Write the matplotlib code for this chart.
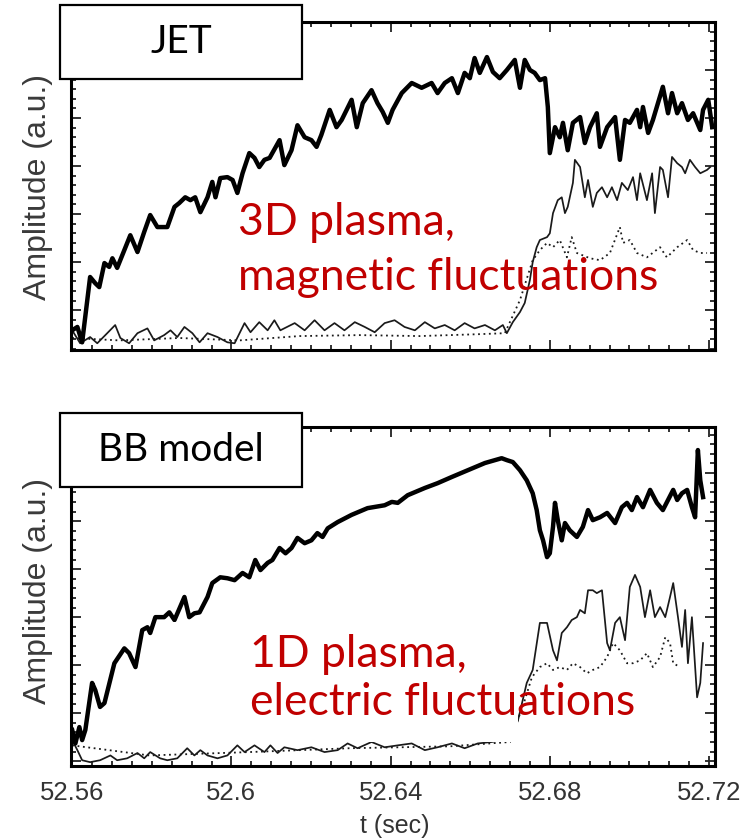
import matplotlib
matplotlib.use("Agg")
import matplotlib.pyplot as plt
from matplotlib.patches import Rectangle
from matplotlib.ticker import MultipleLocator

# ---- JET (top panel) ----
jet_thick_t = [52.5600, 52.5613, 52.5625, 52.5645, 52.5658, 52.5668, 52.5681, 52.5693, 52.5701, 52.5713,
               52.5731, 52.5746, 52.5764, 52.5781, 52.5796, 52.5814, 52.5839, 52.5857, 52.5869, 52.5884,
               52.5897, 52.5909, 52.5922, 52.5940, 52.5952, 52.5960, 52.5972, 52.5990, 52.6003, 52.6015,
               52.6028, 52.6045, 52.6058, 52.6070, 52.6083, 52.6096, 52.6121, 52.6133, 52.6151, 52.6166,
               52.6184, 52.6201, 52.6214, 52.6226, 52.6247, 52.6264, 52.6277, 52.6302, 52.6315, 52.6330,
               52.6352, 52.6367, 52.6380, 52.6393, 52.6405, 52.6428, 52.6453, 52.6478, 52.6503, 52.6518,
               52.6536, 52.6554, 52.6569, 52.6586, 52.6599, 52.6611, 52.6624, 52.6642, 52.6657, 52.6674,
               52.6692, 52.6712, 52.6725, 52.6737, 52.6750, 52.6762, 52.6775, 52.6788, 52.6795, 52.6800,
               52.6813, 52.6825, 52.6833, 52.6845, 52.6858, 52.6876, 52.6888, 52.6901, 52.6918, 52.6926,
               52.6944, 52.6964, 52.6976, 52.6989, 52.7001, 52.7019, 52.7027, 52.7034, 52.7047, 52.7059,
               52.7084, 52.7097, 52.7107, 52.7120, 52.7132, 52.7147, 52.7160, 52.7178, 52.7185, 52.7198,
               52.7208]
jet_thick_a = [-0.42, -0.35, -0.67, 0.69, 0.56, 0.48, 0.98, 0.90, 1.08, 0.88,
               1.25, 1.56, 1.21, 1.63, 1.98, 1.73, 1.73, 2.15, 2.23, 2.35,
               2.29, 2.35, 2.04, 2.35, 2.67, 2.35, 2.75, 2.77, 2.71, 2.44,
               2.85, 3.27, 3.17, 2.98, 3.13, 3.17, 3.54, 3.02, 3.33, 3.85,
               3.60, 3.54, 3.40, 3.65, 4.17, 3.81, 3.96, 4.38, 3.81, 4.31,
               4.58, 4.31, 4.13, 3.90, 4.17, 4.52, 4.73, 4.63, 4.73, 4.52,
               4.73, 4.83, 4.52, 4.94, 4.83, 5.25, 4.94, 5.27, 4.96, 4.83,
               5.00, 5.21, 4.63, 5.21, 5.00, 4.94, 4.79, 4.83, 4.23, 3.27,
               3.81, 3.60, 3.90, 3.33, 3.90, 4.02, 3.48, 3.81, 4.10, 3.40,
               3.81, 4.02, 3.13, 3.96, 3.90, 4.17, 3.81, 4.23, 3.69, 3.96,
               4.65, 4.10, 4.52, 4.10, 4.31, 3.96, 4.10, 3.75, 4.17, 4.38,
               3.81]

jet_thin_t = [52.5600, 52.5620, 52.5645, 52.5663, 52.5688, 52.5708, 52.5721, 52.5743, 52.5764, 52.5789,
              52.5806, 52.5831, 52.5847, 52.5864, 52.5882, 52.5902, 52.5920, 52.5940, 52.5965, 52.5990,
              52.6008, 52.6033, 52.6048, 52.6070, 52.6091, 52.6108, 52.6123, 52.6159, 52.6184, 52.6209,
              52.6234, 52.6259, 52.6284, 52.6310, 52.6335, 52.6360, 52.6385, 52.6410, 52.6435, 52.6461,
              52.6486, 52.6511, 52.6536, 52.6561, 52.6586, 52.6611, 52.6637, 52.6662, 52.6682, 52.6692,
              52.6707, 52.6725, 52.6737, 52.6750, 52.6757, 52.6767, 52.6775, 52.6793, 52.6800, 52.6808,
              52.6820, 52.6830, 52.6838, 52.6845, 52.6858, 52.6863, 52.6876, 52.6888, 52.6896, 52.6908,
              52.6918, 52.6931, 52.6944, 52.6956, 52.6969, 52.6981, 52.6996, 52.7009, 52.7019, 52.7027,
              52.7044, 52.7057, 52.7064, 52.7077, 52.7084, 52.7097, 52.7107, 52.7120, 52.7132, 52.7140,
              52.7152, 52.7165, 52.7178, 52.7195, 52.7203]
jet_thin_a = [-0.42, -0.69, -0.56, -0.69, -0.48, -0.31, -0.58, -0.69, -0.48, -0.38,
              -0.63, -0.52, -0.42, -0.56, -0.35, -0.48, -0.67, -0.48, -0.56, -0.67,
              -0.69, -0.27, -0.46, -0.25, -0.42, -0.21, -0.42, -0.27, -0.42, -0.21,
              -0.42, -0.27, -0.42, -0.25, -0.35, -0.46, -0.27, -0.21, -0.35, -0.42,
              -0.25, -0.38, -0.31, -0.42, -0.27, -0.38, -0.31, -0.42, -0.31, -0.48,
              -0.25, -0.04, 0.15, 0.63, 1.00, 1.31, 1.46, 1.52, 1.60, 2.02,
              2.29, 2.35, 2.02, 2.15, 2.65, 3.13, 2.98, 2.35, 2.71, 2.15,
              2.44, 2.56, 2.35, 2.56, 2.29, 2.65, 2.50, 2.77, 2.29, 2.85,
              2.29, 2.85, 2.02, 2.98, 2.92, 2.35, 3.19, 3.06, 2.98, 2.85,
              3.13, 2.98, 2.85, 2.92, 2.98]

jet_dot_t = [52.5600, 52.5718, 52.5869, 52.6020, 52.6171, 52.6322, 52.6473, 52.6624, 52.6687, 52.6725,
             52.6757, 52.6775, 52.6793, 52.6808, 52.6825, 52.6843, 52.6855, 52.6868, 52.6901, 52.6926,
             52.6951, 52.6976, 52.6984, 52.7001, 52.7019, 52.7044, 52.7077, 52.7094, 52.7120, 52.7145,
             52.7160, 52.7178, 52.7195]
jet_dot_a = [-0.58, -0.63, -0.58, -0.63, -0.54, -0.52, -0.54, -0.50, -0.48, 0.21,
             1.04, 1.25, 1.40, 1.31, 1.46, 1.10, 1.52, 1.19, 1.08, 1.04,
             1.19, 1.73, 1.40, 1.46, 1.19, 1.10, 1.31, 1.10, 1.31, 1.46,
             1.25, 1.19, 1.19]

# ---- BB model (bottom panel) ----
bb_thick_t = [52.5600, 52.5608, 52.5618, 52.5625, 52.5633, 52.5650, 52.5658, 52.5670, 52.5681, 52.5706,
              52.5731, 52.5743, 52.5759, 52.5776, 52.5789, 52.5796, 52.5809, 52.5831, 52.5844, 52.5857,
              52.5882, 52.5894, 52.5907, 52.5920, 52.5940, 52.5952, 52.5972, 52.5990, 52.6008, 52.6028,
              52.6045, 52.6060, 52.6073, 52.6091, 52.6103, 52.6121, 52.6136, 52.6151, 52.6166, 52.6184,
              52.6201, 52.6216, 52.6229, 52.6242, 52.6267, 52.6302, 52.6342, 52.6385, 52.6403, 52.6418,
              52.6443, 52.6486, 52.6518, 52.6554, 52.6594, 52.6637, 52.6679, 52.6692, 52.6707, 52.6725,
              52.6742, 52.6757, 52.6767, 52.6775, 52.6783, 52.6793, 52.6800, 52.6808, 52.6813, 52.6820,
              52.6830, 52.6838, 52.6850, 52.6868, 52.6883, 52.6896, 52.6908, 52.6926, 52.6944, 52.6964,
              52.6981, 52.6994, 52.7006, 52.7019, 52.7034, 52.7052, 52.7069, 52.7084, 52.7097, 52.7110,
              52.7120, 52.7132, 52.7145, 52.7157, 52.7165, 52.7172, 52.7178, 52.7185]
bb_thick_a = [-0.35, -0.63, -0.29, -0.56, -0.35, 0.63, 0.48, 0.13, 0.21, 1.04,
              1.35, 1.25, 0.96, 1.73, 1.79, 1.67, 2.00, 2.00, 2.10, 1.94,
              2.42, 2.00, 2.08, 2.10, 2.42, 2.71, 2.83, 2.81, 2.77, 2.92,
              2.83, 3.19, 2.98, 3.13, 3.19, 3.44, 3.33, 3.44, 3.65, 3.54,
              3.60, 3.75, 3.67, 3.85, 3.98, 4.13, 4.27, 4.33, 4.40, 4.38,
              4.54, 4.69, 4.79, 4.92, 5.06, 5.21, 5.31, 5.27, 5.23, 5.06,
              4.85, 4.58, 4.23, 3.81, 3.60, 3.25, 3.33, 3.88, 4.38, 4.02,
              3.60, 3.96, 3.81, 3.67, 3.88, 4.23, 4.02, 4.08, 4.17, 3.96,
              4.29, 4.38, 4.23, 4.50, 4.29, 4.65, 4.38, 4.23, 4.44, 4.65,
              4.44, 4.58, 4.65, 4.29, 4.08, 5.48, 4.85, 4.50]

bb_thin_t = [52.5600, 52.5613, 52.5625, 52.5645, 52.5670, 52.5696, 52.5713, 52.5738, 52.5764, 52.5781,
             52.5796, 52.5821, 52.5839, 52.5864, 52.5889, 52.5907, 52.5922, 52.5940, 52.5965, 52.5990,
             52.6015, 52.6033, 52.6058, 52.6083, 52.6098, 52.6116, 52.6133, 52.6166, 52.6201, 52.6234,
             52.6267, 52.6292, 52.6317, 52.6352, 52.6385, 52.6418, 52.6453, 52.6486, 52.6518, 52.6554,
             52.6586, 52.6619, 52.6654, 52.6679, 52.6700, 52.6720, 52.6742, 52.6757, 52.6775, 52.6793,
             52.6808, 52.6818, 52.6830, 52.6843, 52.6855, 52.6868, 52.6876, 52.6888, 52.6896, 52.6908,
             52.6918, 52.6931, 52.6944, 52.6951, 52.6964, 52.6976, 52.6989, 52.7001, 52.7014, 52.7027,
             52.7039, 52.7052, 52.7064, 52.7077, 52.7090, 52.7102, 52.7110, 52.7122, 52.7132, 52.7140,
             52.7147, 52.7157, 52.7170, 52.7178, 52.7185]
bb_thin_a = [-0.56, -0.77, -0.98, -1.02, -0.98, -0.88, -0.98, -0.94, -0.83, -0.94,
             -0.81, -0.94, -0.98, -0.94, -0.73, -0.88, -0.77, -0.88, -0.94, -0.88,
             -0.67, -0.81, -0.67, -0.81, -0.67, -0.83, -0.71, -0.77, -0.71, -0.81,
             -0.77, -0.63, -0.73, -0.60, -0.71, -0.67, -0.63, -0.77, -0.71, -0.63,
             -0.73, -0.63, -0.60, -0.56, -0.56, -0.15, 0.63, 0.90, 1.88, 1.88,
             1.31, 1.10, 1.67, 1.79, 1.94, 2.00, 2.15, 2.08, 2.56, 2.56,
             2.50, 2.56, 1.46, 1.31, 1.88, 2.00, 1.52, 2.63, 2.88, 2.63,
             2.00, 2.56, 2.00, 2.21, 2.00, 2.42, 2.71, 2.00, 1.38, 2.15,
             1.04, 2.00, 0.33, 0.63, 1.46]

bb_dot_t = [52.5600, 52.5794, 52.6045, 52.6297, 52.6549, 52.6700, 52.6737, 52.6755, 52.6775, 52.6793,
            52.6808, 52.6825, 52.6843, 52.6858, 52.6876, 52.6893, 52.6908, 52.6926, 52.6944, 52.6959,
            52.6976, 52.6994, 52.7009, 52.7027, 52.7044, 52.7059, 52.7077, 52.7090, 52.7102, 52.7110,
            52.7127]
bb_dot_a = [-0.67, -0.88, -0.81, -0.73, -0.69, -0.60, 0.27, 0.75, 0.96, 1.04,
            0.90, 0.96, 0.90, 1.04, 0.96, 0.83, 0.90, 0.96, 1.17, 1.46,
            1.31, 1.04, 1.04, 1.10, 1.25, 0.96, 1.17, 1.58, 1.46, 1.04,
            0.96]

xtick_vals = [52.56, 52.6, 52.64, 52.68, 52.72]
xtick_labels = ["52.56", "52.6", "52.64", "52.68", "52.72"]

panels = [
    dict(name="JET", thick=(jet_thick_t, jet_thick_a), thin=(jet_thin_t, jet_thin_a),
         dot=(jet_dot_t, jet_dot_a), ylim=(-0.83, 6.0),
         lines=["3D plasma,", "magnetic fluctuations"]),
    dict(name="BB model", thick=(bb_thick_t, bb_thick_a), thin=(bb_thin_t, bb_thin_a),
         dot=(bb_dot_t, bb_dot_a), ylim=(-1.10, 5.96),
         lines=["1D plasma,", "electric fluctuations"]),
]

W, H = 747, 839
fig = plt.figure(figsize=(W / 100, H / 100), dpi=100)


def fx(px):
    return px / W


def fy(py):
    return 1 - py / H


ax_top = fig.add_axes([fx(71), fy(350), fx(715) - fx(71), fy(22) - fy(350)])
ax_bot = fig.add_axes([fx(71), fy(766), fx(715) - fx(71), fy(427) - fy(766)])

red = "#C00000"
gray = "#333333"

for ax, p in zip([ax_top, ax_bot], panels):
    ax.plot(*p["thin"], color="#1a1a1a", lw=1.25, zorder=2)
    ax.plot(*p["dot"], color="#1a1a1a", lw=1.3, ls=(0, (1, 2.0)), zorder=2)
    ax.plot(*p["thick"], color="black", lw=3.2, zorder=3, solid_joinstyle="round")
    ax.set_xlim(52.5597, 52.7215)
    ax.set_ylim(*p["ylim"])
    ax.xaxis.set_major_locator(MultipleLocator(0.04))
    ax.xaxis.set_minor_locator(MultipleLocator(0.005))
    ax.yaxis.set_major_locator(MultipleLocator(1))
    ax.yaxis.set_minor_locator(MultipleLocator(0.2))
    ax.tick_params(which="both", direction="in", top=True, right=True, width=1.3, color="#222222")
    ax.tick_params(which="major", length=7)
    ax.tick_params(which="minor", length=3.5)
    ax.set_yticklabels([])
    for s in ax.spines.values():
        s.set_linewidth(2.2)

ax_top.set_xticklabels([])
ax_bot.set_xticks(xtick_vals)
ax_bot.set_xticklabels(xtick_labels)
ax_bot.tick_params(axis="x", which="major", labelsize=18.5, labelcolor=gray, pad=11)
for lab in ax_bot.get_xticklabels():
    lab.set_family("Liberation Sans")

# axis labels
for cy in (187, 591):
    fig.text(fx(38), fy(cy), "Amplitude (a.u.)", rotation=90, ha="center", va="center",
             fontsize=23, color="#3a3a3a", family="Liberation Sans")
fig.text(fx(395), fy(826), "t (sec)", ha="center", va="center", fontsize=18,
         color=gray, family="Liberation Sans")

# white patch behind the lower annotation
fig.add_artist(Rectangle((fx(165), fy(742)), fx(518) - fx(165), fy(622) - fy(742),
                         transform=fig.transFigure, facecolor="white", edgecolor="none", zorder=5))

# panel name boxes
for (y0, y1), p in zip([(5, 79), (413, 487)], panels):
    fig.add_artist(Rectangle((fx(60), fy(y1)), fx(302) - fx(60), fy(y0) - fy(y1),
                             transform=fig.transFigure, facecolor="white", edgecolor="black",
                             lw=1.6, zorder=6))
    fig.text(fx(181), fy((y0 + y1) / 2), p["name"], ha="center", va="center",
             fontsize=28, family="Lato", zorder=7)

# red annotations
for (x0, b1, b2), p in zip([(238, 235, 290), (250, 667, 715)], panels):
    fig.text(fx(x0), fy(b1), p["lines"][0], ha="left", va="baseline", fontsize=32,
             color=red, family="Lato", zorder=7)
    fig.text(fx(x0), fy(b2), p["lines"][1], ha="left", va="baseline", fontsize=32,
             color=red, family="Lato", zorder=7)

fig.savefig("out.png", dpi=100)
